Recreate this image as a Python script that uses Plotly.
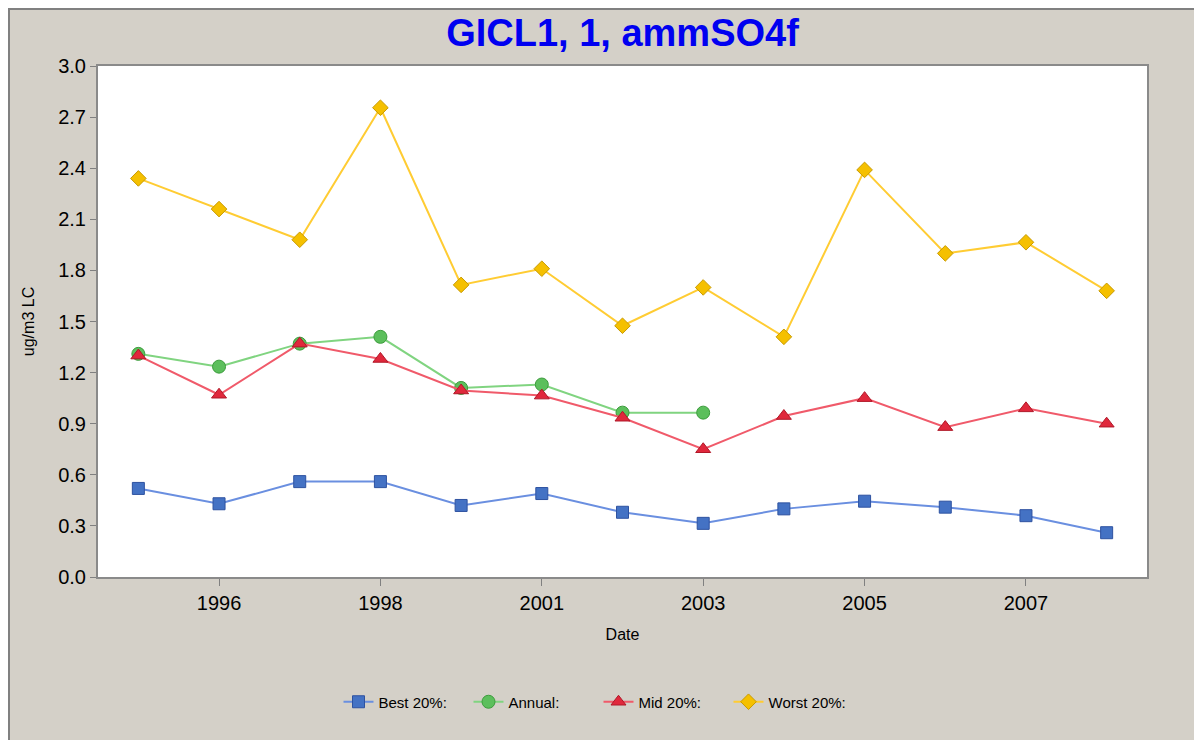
import plotly.graph_objects as go

years = ["1995", "1996", "1997", "1998", "2000", "2001", "2002",
         "2003", "2004", "2005", "2006", "2007", "2008"]
tick_labels = ["1996", "1998", "2001", "2003", "2005", "2007"]

best = [0.52, 0.43, 0.56, 0.56, 0.42, 0.49, 0.38, 0.315, 0.40, 0.445, 0.41, 0.36, 0.26]
annual = [1.31, 1.235, 1.37, 1.41, 1.11, 1.13, 0.965, 0.965, None, None, None, None, None]
mid = [1.30, 1.07, 1.37, 1.28, 1.095, 1.065, 0.935, 0.75, 0.945, 1.05, 0.88, 0.99, 0.90]
worst = [2.34, 2.16, 1.98, 2.755, 1.715, 1.81, 1.475, 1.70, 1.41, 2.39, 1.90, 1.965, 1.68]

series = [
    ("Best 20%:", best, "square", 12, "#4472C4", "#2E52A0", "#6A8FE0"),
    ("Annual:", annual, "circle", 13, "#5CBF5C", "#3C9C3C", "#80D480"),
    ("Mid 20%:", mid, "triangle-up", 13, "#E0283C", "#B01828", "#F05A6A"),
    ("Worst 20%:", worst, "diamond", 12, "#F5C000", "#C89A00", "#FFCC33"),
]

fig = go.Figure()
for name, vals, sym, size, fill, edge, lcol in series:
    fig.add_trace(go.Scatter(
        x=years, y=vals, name=name, mode="lines+markers",
        connectgaps=False,
        line=dict(color=lcol, width=2),
        marker=dict(symbol=sym, size=size, color=fill,
                    line=dict(color=edge, width=1)),
    ))

W, H = 1202, 740
L, R, T, B = 90, 63, 58, 171
pw, ph = W - L - R, H - T - B

def px_x(p):
    return (p - L) / pw

def px_y(p):
    return (H - B - p) / ph

fig.update_layout(
    width=W, height=H,
    margin=dict(l=L, r=R, t=T, b=B),
    paper_bgcolor="#D4D0C8",
    plot_bgcolor="#FFFFFF",
    font=dict(family="Liberation Sans, Arial, sans-serif", color="#000000"),
    title=dict(text="<b>GICL1, 1, ammSO4f</b>", x=0.5, xanchor="center",
               xref="paper", y=1 - 25 / H, yanchor="middle", yref="container",
               font=dict(size=38, color="#0000F0",
                         family="Liberation Sans, Arial, sans-serif")),
    showlegend=True,
    legend=dict(orientation="h", x=px_x(L + pw / 2 - 24), xanchor="center",
                y=px_y(694), yanchor="middle", bgcolor="rgba(0,0,0,0)",
                font=dict(size=15), entrywidth=85, itemwidth=30),
    xaxis=dict(type="category", range=[-0.5, len(years) - 0.5],
               tickmode="array", tickvals=tick_labels, ticktext=tick_labels,
               ticks="outside", ticklen=7, tickcolor="#808080", tickwidth=1,
               showgrid=False, zeroline=False,
               showline=True, linecolor="#8A8A8A", linewidth=2, mirror=True,
               tickfont=dict(size=20),
               title=dict(text="Date", font=dict(size=16), standoff=16)),
    yaxis=dict(range=[0, 3.0], tickmode="linear", tick0=0, dtick=0.3,
               tickformat=".1f",
               ticks="outside", ticklen=6, tickcolor="#808080", tickwidth=1,
               showgrid=False, zeroline=False,
               showline=True, linecolor="#8A8A8A", linewidth=2, mirror=True,
               tickfont=dict(size=20),
               title=dict(text="ug/m3 LC", font=dict(size=16), standoff=20)),
    shapes=[
        dict(type="rect", xref="paper", yref="paper",
             x0=px_x(1), x1=px_x(W + 20), y0=px_y(H + 20), y1=px_y(1),
             fillcolor="rgba(0,0,0,0)", line=dict(color="#808080", width=2),
             layer="above"),
    ],
)

fig.write_html("out.html")
